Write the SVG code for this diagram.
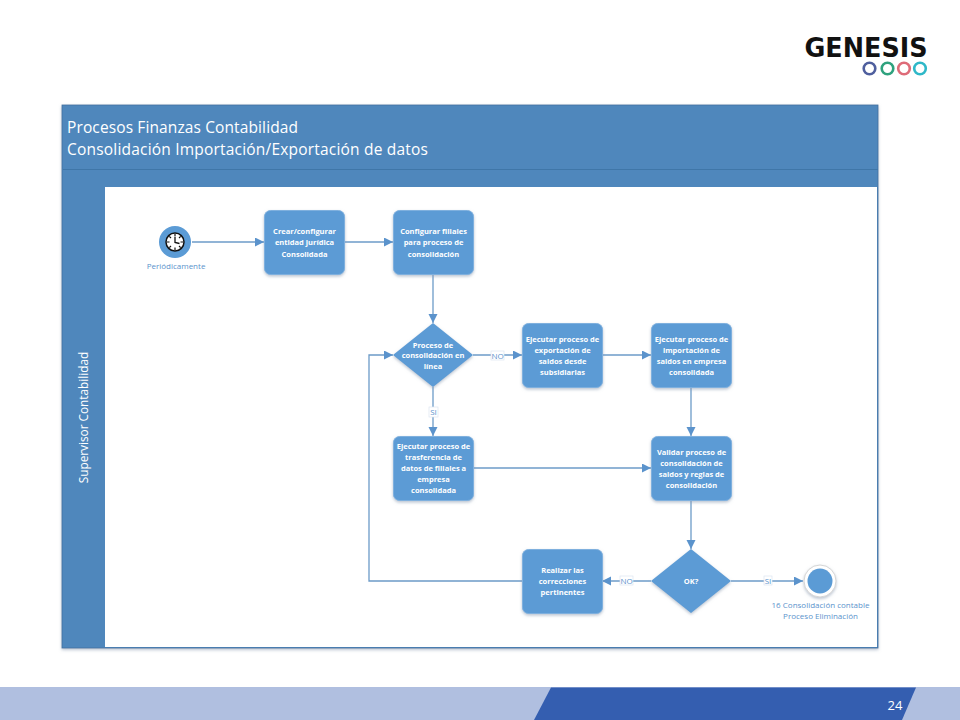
<svg xmlns="http://www.w3.org/2000/svg" width="960" height="720" viewBox="0 0 960 720">
<defs>
<marker id="arr" markerUnits="userSpaceOnUse" markerWidth="10" markerHeight="10" refX="9" refY="4.5" orient="auto"><path d="M0 0L9 4.5L0 9Z" fill="#5B93CC"/></marker>
<filter id="sh" x="-15%" y="-15%" width="130%" height="130%"><feDropShadow dx="0" dy="1.5" stdDeviation="1.5" flood-color="#8a9bb0" flood-opacity=".6"/></filter>
</defs>
<style>
text{font-family:"Open Sans","Noto Sans","Liberation Sans",sans-serif}
.n{fill:#5B9BD5;stroke:#7FB0DE;stroke-width:1;filter:url(#sh)}
.d{fill:#5B9BD5;filter:url(#sh)}
.t{fill:#fff;font-size:7.500px;font-weight:700;text-anchor:middle}
.c{fill:none;stroke:#6C9BC8;stroke-width:1.300;marker-end:url(#arr)}
.l{fill:#fff;stroke:#DCE6F1;stroke-width:.7}
.lt{fill:#5B93CC;font-size:8px;text-anchor:middle}
.ev{fill:#5B93CC;font-size:8px;text-anchor:middle}
.h{fill:#fff;font-size:15.500px}
.r{fill:none;stroke-width:2.600}
</style>
<rect width="960" height="720" fill="#fff"/>
<g id="footer">
<rect x="0" y="687" width="960" height="33" fill="#B0BFE0"/>
<path d="M551 687.500H916L902 720H534Z" fill="#345EB0"/>
<text x="895" y="710" fill="#fff" font-size="13" text-anchor="middle">24</text>
</g>
<g id="logo">
<text x="866" y="57" font-size="26" font-weight="700" text-anchor="middle" textLength="123" lengthAdjust="spacingAndGlyphs" style="font-family:'DejaVu Sans',sans-serif" fill="#111">GENESIS</text>
<circle class="r" cx="869.500" cy="68.500" r="5.800" stroke="#4F5F9E"/>
<circle class="r" cx="887.500" cy="68.500" r="5.800" stroke="#2FA27E"/>
<circle class="r" cx="904" cy="68.500" r="5.800" stroke="#DE6B78"/>
<circle class="r" cx="920" cy="68.500" r="5.800" stroke="#2FB8C8"/>
</g>
<g id="pool">
<rect x="62" y="105" width="816" height="543" fill="#4F87BC" stroke="#3F6F9E" stroke-width=".8" filter="url(#sh)"/>
<rect x="105" y="187" width="772" height="460" fill="#fff"/>
<path d="M63 169.500H878" stroke="#3F76A8" stroke-width="1.200"/>
<text class="h" x="67" y="133" textLength="231" lengthAdjust="spacing">Procesos Finanzas Contabilidad</text>
<text class="h" x="67" y="155" textLength="361" lengthAdjust="spacing">Consolidación Importación/Exportación de datos</text>
<text x="88" y="417.500" fill="#fff" font-size="11.800" text-anchor="middle" transform="rotate(-90 88 417.500)">Supervisor Contabilidad</text>
</g>
<g id="connectors">
<path class="c" d="M192 242H264"/>
<path class="c" d="M344 242H393"/>
<path class="c" d="M433 274V323"/>
<path class="c" d="M473 355H522"/>
<path class="c" d="M602 355H651"/>
<path class="c" d="M433 387V436"/>
<path class="c" d="M691 387V436"/>
<path class="c" d="M473 468H651"/>
<path class="c" d="M691 500V549"/>
<path class="c" d="M651 581H602"/>
<path class="c" d="M731 581H803"/>
<path class="c" d="M522 581H369V355H393"/>
<rect class="l" x="491" y="351" width="13" height="9"/><text class="lt" x="497.500" y="358.500">NO</text>
<rect class="l" x="429" y="407" width="9" height="10"/><text class="lt" x="433.500" y="415">SI</text>
<rect class="l" x="620" y="576" width="13" height="9"/><text class="lt" x="626.500" y="584">NO</text>
<rect class="l" x="764" y="576" width="8" height="9"/><text class="lt" x="768" y="584">SI</text>
</g>
<g id="start">
<circle cx="175" cy="242" r="16" fill="#5B9BD5"/>
<circle cx="175" cy="242" r="9" fill="#fff" stroke="#111" stroke-width="1.500"/>
<path d="M175 234V236.500M175 247.500V250M167 242H169.500M180.500 242H183M169.300 236.300L171 238M179 246L180.700 247.700M180.700 236.300L179 238M171 246L169.300 247.700" fill="none" stroke="#111" stroke-width="1.200"/>
<path d="M175 237V242.500L179.500 243.500" fill="none" stroke="#111" stroke-width="1.300"/>
<text class="ev" x="176" y="269">Periódicamente</text>
</g>
<g id="n1"><rect class="n" x="264.500" y="210.500" width="80" height="64" rx="6"/><text class="t" x="304.500" y="234">Crear/configurar</text><text class="t" x="304.500" y="245">entidad jurídica</text><text class="t" x="304.500" y="257">Consolidada</text></g>
<g id="n2"><rect class="n" x="393.500" y="210.500" width="80" height="64" rx="6"/><text class="t" x="433.500" y="234">Configurar filiales</text><text class="t" x="433.500" y="245">para proceso de</text><text class="t" x="433.500" y="257">consolidación</text></g>
<g id="d1"><path class="d" d="M433 323L473 355L433 387L393 355Z"/><text class="t" x="433" y="348">Proceso de</text><text class="t" x="433" y="358">consolidación en</text><text class="t" x="433" y="369">línea</text></g>
<g id="n3"><rect class="n" x="522.500" y="323.500" width="80" height="64" rx="6"/><text class="t" x="562.500" y="342">Ejecutar proceso de</text><text class="t" x="562.500" y="353">exportación de</text><text class="t" x="562.500" y="364">saldos desde</text><text class="t" x="562.500" y="375">subsidiarias</text></g>
<g id="n4"><rect class="n" x="651.500" y="323.500" width="80" height="64" rx="6"/><text class="t" x="691.500" y="342">Ejecutar proceso de</text><text class="t" x="691.500" y="353">importación de</text><text class="t" x="691.500" y="364">saldos en empresa</text><text class="t" x="691.500" y="375">consolidada</text></g>
<g id="n5"><rect class="n" x="393.500" y="436.500" width="80" height="64" rx="6"/><text class="t" x="433.500" y="449">Ejecutar proceso de</text><text class="t" x="433.500" y="460">trasferencia de</text><text class="t" x="433.500" y="471">datos de filiales a</text><text class="t" x="433.500" y="482">empresa</text><text class="t" x="433.500" y="493">consolidada</text></g>
<g id="n6"><rect class="n" x="651.500" y="436.500" width="80" height="64" rx="6"/><text class="t" x="691.500" y="455">Validar proceso de</text><text class="t" x="691.500" y="466">consolidación de</text><text class="t" x="691.500" y="477">saldos y reglas de</text><text class="t" x="691.500" y="488">consolidación</text></g>
<g id="n7"><rect class="n" x="522.500" y="549.500" width="80" height="64" rx="6"/><text class="t" x="562.500" y="573">Realizar las</text><text class="t" x="562.500" y="584">correcciones</text><text class="t" x="562.500" y="595">pertinentes</text></g>
<g id="d2"><path class="d" d="M691 549L731 581L691 613L651 581Z"/><text class="t" x="691" y="584">OK?</text></g>
<g id="end">
<circle cx="820" cy="581" r="16" fill="#fff" stroke="#D5D5D5" stroke-width="1" filter="url(#sh)"/>
<circle cx="820" cy="581" r="12.500" fill="#5B9BD5"/>
<text class="ev" x="820.500" y="608">16 Consolidación contable</text>
<text class="ev" x="820.500" y="619">Proceso Eliminación</text>
</g>
</svg>
